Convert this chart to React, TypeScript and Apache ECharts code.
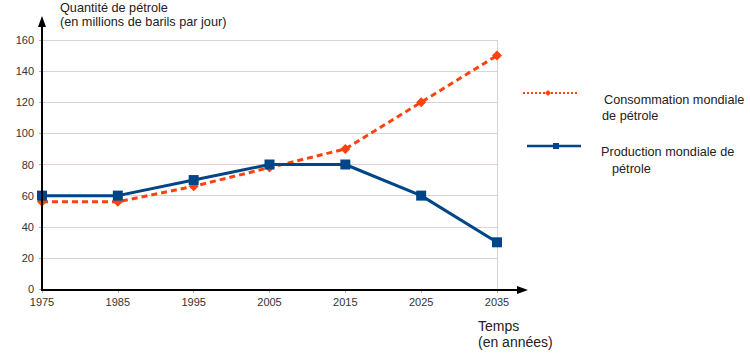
import React, { useEffect, useRef } from "react";
import * as echarts from "echarts";

const years = ["1975", "1985", "1995", "2005", "2015", "2025", "2035"];
const consommation = [56, 56, 66, 78, 90, 120, 150];
const production = [60, 60, 70, 80, 80, 60, 30];
const yTicks = { min: 0, max: 160, interval: 20 };

const ORANGE = "#ff420e";
const BLUE = "#004586";
const FONT = "'Liberation Sans', Arial, sans-serif";
const GRAY = "#d4d4d4";
const PINK = "#e6cfd3";

export default function App() {
  const ref = useRef<HTMLDivElement>(null);
  useEffect(() => {
    if (!ref.current) return;
    const chart = echarts.init(ref.current, undefined, { renderer: "svg" });
    chart.setOption({
      animation: false,
      textStyle: { fontFamily: FONT },
      grid: { left: 42, right: 253, top: 40, bottom: 66 },
      xAxis: {
        type: "category",
        data: years,
        boundaryGap: false,
        axisLine: { show: false },
        axisTick: { show: true, length: 4, lineStyle: { color: "#b0b0b0" } },
        axisLabel: { fontSize: 11, color: "#333", margin: 7, fontFamily: FONT },
        splitLine: {
          show: true,
          interval: (i: number) => i === years.length - 1,
          lineStyle: { color: GRAY, width: 1 },
        },
      },
      yAxis: {
        type: "value",
        min: yTicks.min,
        max: yTicks.max,
        interval: yTicks.interval,
        axisLine: { show: false },
        axisTick: { show: true, length: 3, lineStyle: { color: "#b0b0b0" } },
        axisLabel: { fontSize: 11, color: "#333", margin: 8, fontFamily: FONT },
        splitLine: {
          show: true,
          lineStyle: {
            width: 1,
            color: [GRAY, GRAY, PINK, GRAY, PINK, GRAY, GRAY, GRAY, GRAY],
          },
        },
      },
      series: [
        {
          name: "Consommation mondiale de pétrole",
          type: "line",
          data: consommation,
          symbol: "diamond",
          symbolSize: 10,
          itemStyle: { color: ORANGE },
          lineStyle: { color: ORANGE, width: 3, type: [6, 4] },
          z: 2,
        },
        {
          name: "Production mondiale de pétrole",
          type: "line",
          data: production,
          symbol: "rect",
          symbolSize: 10,
          itemStyle: { color: BLUE },
          lineStyle: { color: BLUE, width: 3 },
          z: 3,
        },
      ],
    });

    const origin = chart.convertToPixel({ gridIndex: 0 }, [0, 0]) as number[];
    const x0 = origin[0];
    const y0 = origin[1];

    const txt = (x: number, y: number, text: string, fontSize: number) => ({
      type: "text",
      x,
      y,
      style: { text, fontSize, fill: "#222", fontFamily: FONT, verticalAlign: "middle" },
    });

    chart.setOption({
      graphic: [
        {
          type: "line",
          shape: { x1: x0, y1: y0 + 1, x2: x0, y2: 24 },
          style: { stroke: "#000", lineWidth: 2 },
          z: 100,
        },
        {
          type: "polygon",
          shape: { points: [[x0, 16], [x0 - 4, 27], [x0 + 4, 27]] },
          style: { fill: "#000" },
          z: 100,
        },
        {
          type: "line",
          shape: { x1: x0 - 1, y1: y0 + 1, x2: 520, y2: y0 + 1 },
          style: { stroke: "#000", lineWidth: 2 },
          z: 100,
        },
        {
          type: "polygon",
          shape: { points: [[528, y0 + 1], [517, y0 - 3], [517, y0 + 5]] },
          style: { fill: "#000" },
          z: 100,
        },
        txt(60, 8, "Quantité de pétrole", 12.7),
        txt(60, 22, "(en millions de barils par jour)", 12.7),
        txt(478, 326, "Temps", 14),
        txt(478, 342, "(en années)", 14),
        {
          type: "line",
          shape: { x1: 523, y1: 93, x2: 579, y2: 93 },
          style: { stroke: ORANGE, lineWidth: 2, lineDash: [2, 2] },
        },
        {
          type: "polygon",
          shape: { points: [[548, 90], [551, 93], [548, 96], [545, 93]] },
          style: { fill: ORANGE },
        },
        txt(604, 100, "Consommation mondiale", 12.7),
        txt(602, 116, "de pétrole", 12.7),
        {
          type: "line",
          shape: { x1: 527, y1: 146, x2: 581, y2: 146 },
          style: { stroke: BLUE, lineWidth: 2.5 },
        },
        {
          type: "rect",
          shape: { x: 553, y: 143, width: 6, height: 6 },
          style: { fill: BLUE },
        },
        txt(601, 152, "Production mondiale de", 12.7),
        txt(612, 169, "pétrole", 12.7),
      ],
    });

    return () => chart.dispose();
  }, []);

  return (
    <div
      ref={ref}
      style={{ position: "fixed", left: 0, top: 0, width: 750, height: 355, background: "#fff" }}
    />
  );
}
